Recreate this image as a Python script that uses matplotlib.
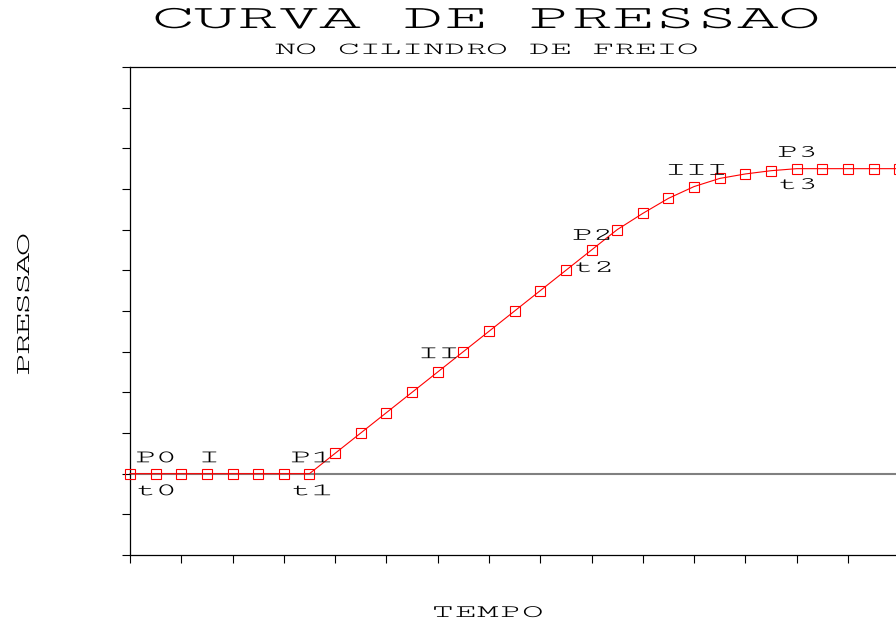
import numpy as np
import matplotlib
matplotlib.use("Agg")
import matplotlib.pyplot as plt
from matplotlib.patheffects import AbstractPathEffect
from matplotlib.path import Path

# ---- data ----
tempo = list(range(31))
pressao = [0, 0, 0, 0, 0, 0, 0, 0, 0.5, 1.0, 1.5, 2.0, 2.5, 3.0, 3.5, 4.0,
           4.5, 5.0, 5.5, 6.0, 6.4, 6.77, 7.06, 7.26, 7.37, 7.45, 7.5, 7.5,
           7.5, 7.5, 7.5]
x_ticks = list(range(0, 33, 2))
y_ticks = list(range(-2, 11))

titulo = "CURVA DE PRESSAO"
subtitulo = "NO CILINDRO DE FREIO"
rotulo_x = "TEMPO"
rotulo_y = "PRESSAO"

marcas = ["P0", "I", "P1", "t0", "t1", "II", "P2", "t2", "III", "P3", "t3"]
marcas_x = [0.975, 3.04, 7.04, 0.975, 7.04, 11.99, 18.0, 18.04, 22.04, 26.0, 26.0]
marcas_y = [0.28, 0.28, 0.28, -0.53, -0.53, 2.84, 5.75, 4.96, 7.35, 7.79, 7.0]


class Spread(AbstractPathEffect):
    """Letter-space a monospaced text path: glyph pitch in px, glyph widening g."""
    def __init__(self, pitch_px, g=1.0, adv=60.0):
        super().__init__()
        self.pitch_px = pitch_px
        self.g = g
        self.adv = adv

    def draw_path(self, renderer, gc, tpath, affine, rgbFace=None):
        m = affine.get_matrix()
        s = np.hypot(m[0, 0], m[1, 0])
        v = np.array(tpath.vertices, dtype=float).copy()
        codes = tpath.codes
        if codes is None or len(v) == 0:
            renderer.draw_path(gc, tpath, affine, rgbFace)
            return
        cx_old = 0.5 * (v[:, 0].min() + v[:, 0].max())
        spread = (self.pitch_px / s) / self.adv
        starts = list(np.where(codes == Path.MOVETO)[0]) + [len(v)]
        for a, b in zip(starts[:-1], starts[1:]):
            seg = v[a:b, 0]
            idx = np.floor(seg.mean() / self.adv)
            c = (idx + 0.5) * self.adv
            v[a:b, 0] = c * spread + (seg - c) * self.g
        cx_new = 0.5 * (v[:, 0].min() + v[:, 0].max())
        v[:, 0] += cx_old - cx_new
        renderer.draw_path(gc, Path(v, codes), affine, rgbFace)


FONT = ["Cutive Mono", "Liberation Mono", "DejaVu Sans Mono"]
W, H = 896, 623
fig = plt.figure(figsize=(W / 100, H / 100), dpi=100)
fig.patch.set_facecolor("white")

ax = fig.add_axes([130 / W, 1 - 555 / H, 32 * 25.64 / W, (555 - 67) / H])
ax.set_xlim(0, 32)
ax.set_ylim(-2, 10)
ax.set_xticks(x_ticks)
ax.set_yticks(y_ticks)
ax.set_xticklabels([])
ax.set_yticklabels([])
ax.tick_params(direction="out", length=6, width=0.8, color="black")
for side in ["left", "bottom", "top"]:
    ax.spines[side].set_linewidth(0.9)
    ax.spines[side].set_color("black")
ax.spines["right"].set_visible(False)

ax.axhline(0, color="#808080", lw=1.5, zorder=1)
ax.plot(tempo, pressao, color="red", lw=0.8, marker="s", markersize=7.2,
        markerfacecolor="none", markeredgecolor="red", markeredgewidth=0.8,
        zorder=3, clip_on=False)

for txt, x, y in zip(marcas, marcas_x, marcas_y):
    ax.text(x, y, txt, family=FONT, fontsize=13.5, ha="center", va="baseline",
            color="black", path_effects=[Spread(20.5, 1.95)])

fig.text(485 / W, 1 - 28 / H, titulo, family=FONT, fontsize=25,
         ha="center", va="baseline", path_effects=[Spread(41.4, 2.05)])
fig.text(485.5 / W, 1 - 54 / H, subtitulo, family=FONT, fontsize=13,
         ha="center", va="baseline", path_effects=[Spread(21, 2.0)])
fig.text(487.5 / W, 1 - 617 / H, rotulo_x, family=FONT, fontsize=13.5,
         ha="center", va="baseline", path_effects=[Spread(22.3, 1.9)])
fig.text(29 / W, 1 - 305 / H, rotulo_y, family=FONT, fontsize=15,
         ha="center", va="baseline", rotation=90, rotation_mode="anchor",
         path_effects=[Spread(19.8, 1.9)])

fig.savefig("out.png", dpi=100, facecolor="white")
